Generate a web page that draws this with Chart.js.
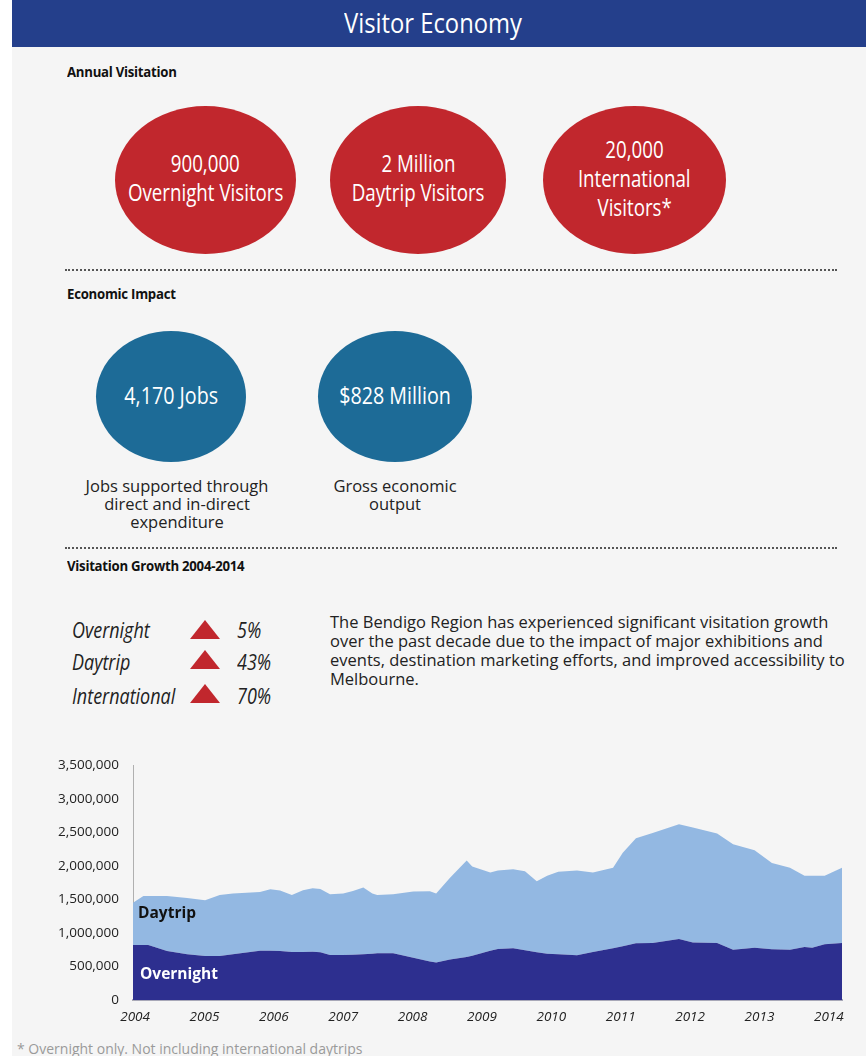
<!DOCTYPE html>
<html>
<head>
<meta charset="utf-8">
<script src="https://cdn.jsdelivr.net/npm/chart.js@4/dist/chart.umd.min.js"></script>
<style>
  html, body { margin:0; padding:0; }
  body { width:866px; height:1056px; background:#ffffff; position:relative; overflow:hidden; font-family:"Open Sans", "Noto Sans", sans-serif; color:#222; }
  .abs { position:absolute; }
  .panel { left:12px; top:0; width:854px; height:1056px; background:#f5f5f5; }
  .header { left:12px; top:0; width:854px; height:47px; background:#243f8b; }
  .title { left:0; top:5px; width:866px; text-align:center; color:#fff; font-size:27px; line-height:36px; }
  .title span { display:inline-block; transform:scaleX(0.88); transform-origin:center; white-space:nowrap; }
  .cond { display:inline-block; transform:scaleX(0.78); transform-origin:center; white-space:nowrap; }
  .cond2 { display:inline-block; transform:scaleX(0.82); transform-origin:center; white-space:nowrap; }
  .condS { display:inline-block; transform:scaleX(0.88); transform-origin:left center; white-space:nowrap; }
  .condG { display:inline-block; transform:scaleX(0.855); transform-origin:left center; white-space:nowrap; }
  .sec { font-weight:700; font-size:15px; line-height:18px; color:#111; letter-spacing:-0.3px; }
  .dots { height:0; border-top:2px dotted #555; }
  .ell { border-radius:50%; display:flex; align-items:center; justify-content:center; flex-direction:column; color:#fff; text-align:center; }
  .red { background:#c1272d; }
  .blue { background:#1d6b97; }
  .ctext { font-size:24px; line-height:29px; position:relative; top:-3px; }
  .cap { font-size:16.5px; line-height:18px; text-align:center; color:#222; }
  .gl { font-style:italic; font-size:21px; line-height:24px; color:#222; }
  .tri { width:0; height:0; border-left:15px solid transparent; border-right:15px solid transparent; border-bottom:19px solid #c1272d; }
  .para { left:330px; top:612px; width:536px; font-size:16.5px; line-height:19px; color:#222; white-space:nowrap; }
  .foot { left:17px; top:1039px; font-size:14px; color:#9a9a9a; white-space:nowrap; }
</style>
</head>
<body>
<div class="abs panel"></div>
<div class="abs header"></div>
<div class="abs title"><span>Visitor Economy</span></div>

<div class="abs sec" style="left:67px; top:62px;"><span class="condS">Annual Visitation</span></div>

<div class="abs ell red" style="left:115px; top:106px; width:181px; height:148px;">
  <div class="ctext"><span class="cond">900,000</span><br><span class="cond">Overnight Visitors</span></div>
</div>
<div class="abs ell red" style="left:330px; top:106px; width:176px; height:148px;">
  <div class="ctext"><span class="cond">2 Million</span><br><span class="cond">Daytrip Visitors</span></div>
</div>
<div class="abs ell red" style="left:543px; top:106px; width:183px; height:148px;">
  <div class="ctext"><span class="cond">20,000</span><br><span class="cond">International</span><br><span class="cond">Visitors*</span></div>
</div>

<div class="abs dots" style="left:65px; top:269px; width:772px;"></div>

<div class="abs sec" style="left:67px; top:284px;"><span class="condS">Economic Impact</span></div>

<div class="abs ell blue" style="left:96px; top:331px; width:150px; height:131px;">
  <div class="ctext" style="top:-2px;"><span class="cond2">4,170 Jobs</span></div>
</div>
<div class="abs ell blue" style="left:318px; top:331px; width:154px; height:131px;">
  <div class="ctext" style="top:-2px;"><span class="cond2">$828 Million</span></div>
</div>

<div class="abs cap" style="left:57px; top:477px; width:240px;">Jobs supported through<br>direct and in-direct<br>expenditure</div>
<div class="abs cap" style="left:295px; top:477px; width:200px;">Gross economic<br>output</div>

<div class="abs dots" style="left:65px; top:547px; width:772px;"></div>

<div class="abs sec" style="left:67px; top:556px;"><span class="condS">Visitation Growth 2004-2014</span></div>

<div class="abs gl" style="left:72px; top:618px;"><span class="condG">Overnight</span></div>
<div class="abs tri" style="left:190px; top:620px;"></div>
<div class="abs gl" style="left:237px; top:618px;"><span class="condG">5%</span></div>

<div class="abs gl" style="left:72px; top:650px;"><span class="condG">Daytrip</span></div>
<div class="abs tri" style="left:190px; top:650px;"></div>
<div class="abs gl" style="left:237px; top:650px;"><span class="condG">43%</span></div>

<div class="abs gl" style="left:72px; top:684px;"><span class="condG">International</span></div>
<div class="abs tri" style="left:190px; top:684px;"></div>
<div class="abs gl" style="left:237px; top:684px;"><span class="condG">70%</span></div>

<div class="abs para">The Bendigo Region has experienced significant visitation growth<br>over the past decade due to the impact of major exhibitions and<br>events, destination marketing efforts, and improved accessibility to<br>Melbourne.</div>

<div class="abs" style="left:0; top:743px; width:860px; height:292px;"><canvas id="c"></canvas></div>

<div class="abs" style="left:138px; top:901px; font-weight:700; font-size:15.5px; color:#111;">Daytrip</div>
<div class="abs" style="left:140px; top:962px; font-weight:700; font-size:15.5px; color:#fff;">Overnight</div>

<div class="abs foot">* Overnight only. Not including international daytrips</div>

<script>
// Time points (fractional years) and visitor counts
const periods = [2003.97,2004.12,2004.19,2004.46,2004.75,2005.01,2005.22,2005.41,2005.80,2005.95,2006.09,2006.26,2006.42,2006.56,2006.67,2006.81,2007.00,2007.14,2007.29,2007.42,2007.49,2007.72,2008.01,2008.25,2008.34,2008.54,2008.78,2008.86,2009.12,2009.23,2009.45,2009.62,2009.79,2009.94,2010.10,2010.37,2010.60,2010.89,2011.03,2011.22,2011.46,2011.84,2012.04,2012.39,2012.62,2012.93,2013.18,2013.44,2013.65,2013.76,2013.94,2014.19];
const overnight = [820000,820000,820000,730000,680000,655000,655000,680000,735000,735000,730000,715000,715000,720000,710000,670000,670000,675000,680000,690000,695000,695000,630000,575000,560000,605000,640000,660000,735000,760000,770000,740000,710000,690000,680000,665000,715000,770000,800000,845000,850000,910000,855000,850000,750000,780000,755000,750000,790000,780000,830000,850000];
const daytrip = [630000,730000,730000,820000,840000,830000,910000,905000,875000,915000,900000,850000,920000,945000,945000,905000,915000,950000,995000,895000,870000,880000,985000,1045000,1025000,1215000,1440000,1330000,1165000,1170000,1180000,1180000,1060000,1160000,1230000,1265000,1185000,1200000,1395000,1565000,1640000,1710000,1715000,1630000,1570000,1450000,1285000,1220000,1060000,1070000,1020000,1120000];
const yearTicks = [2004,2005,2006,2007,2008,2009,2010,2011,2012,2013,2014];
const yTicks = [0,500000,1000000,1500000,2000000,2500000,3000000,3500000];
const seriesNames = ['Overnight','Daytrip'];

const toXY = arr => arr.map((v,i) => ({x: periods[i], y: v}));

new Chart(document.getElementById('c'), {
  type: 'line',
  data: {
    datasets: [
      { label: seriesNames[0], data: toXY(overnight), backgroundColor:'#2d2f8f', borderWidth:0, pointRadius:0, fill:'origin', tension:0 },
      { label: seriesNames[1], data: toXY(daytrip), backgroundColor:'#93b8e2', borderWidth:0, pointRadius:0, fill:'-1', tension:0 }
    ]
  },
  options: {
    responsive: true,
    maintainAspectRatio: false,
    animation: false,
    layout: { padding: { top: 7, right: 18, left: 0, bottom: 0 } },
    plugins: { legend: { display:false }, tooltip: { enabled:false } },
    scales: {
      x: {
        type: 'linear',
        min: 2003.97,
        max: 2014.19,
        grid: { display:false, drawTicks:false },
        border: { display:true, color:'#a8a8b8', width:2 },
        afterBuildTicks: s => { s.ticks = yearTicks.map(v => ({value:v})); },
        afterFit: s => { s.height = 35; },
        ticks: { padding: 9, color:'#222', maxRotation:0, autoSkip:false,
                 font: { family:'"Open Sans", sans-serif', size:13.5, style:'italic' },
                 callback: v => String(v) }
      },
      y: {
        stacked: true,
        min: 0,
        max: 3500000,
        grid: { display:false, drawTicks:false },
        border: { display:true, color:'#b0b0b0', width:1 },
        afterBuildTicks: s => { s.ticks = yTicks.map(v => ({value:v})); },
        afterFit: s => { s.width = 133; },
        ticks: { padding: 14, color:'#222',
                 font: { family:'"Open Sans", sans-serif', size:13.5 },
                 callback: v => Number(v).toLocaleString('en-US') }
      }
    }
  }
});
</script>
</body>
</html>
